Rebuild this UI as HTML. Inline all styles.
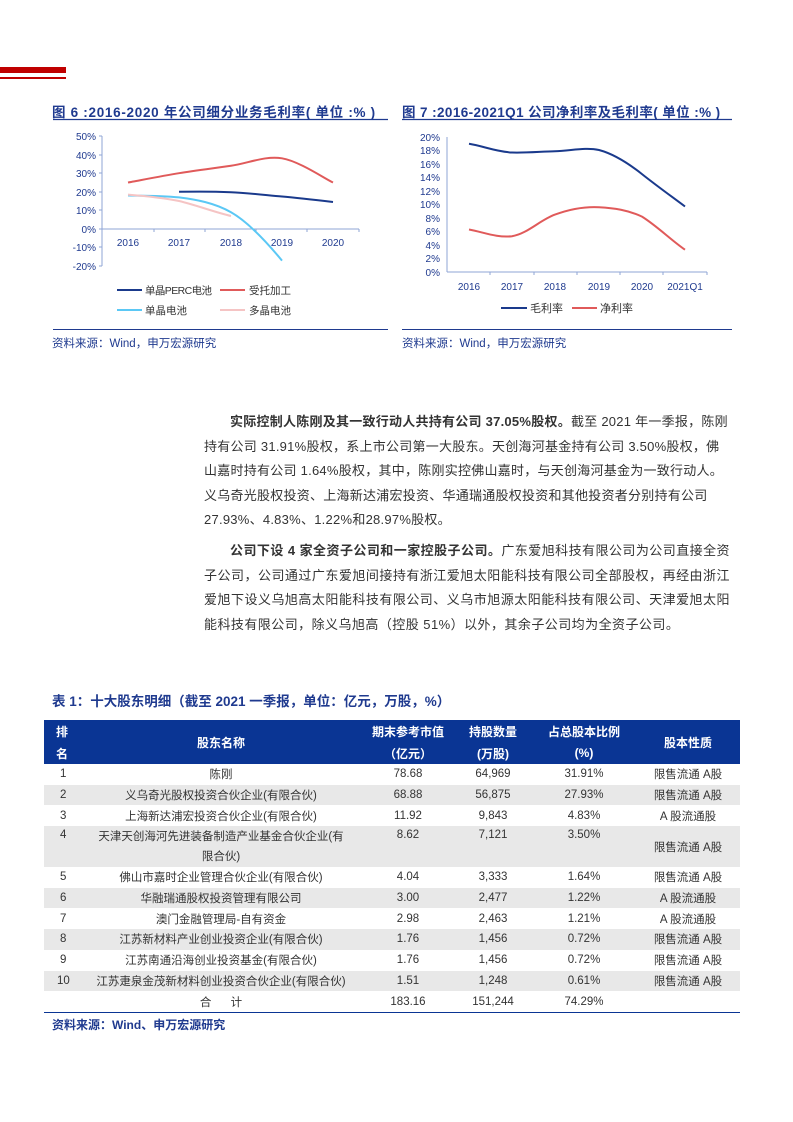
<!DOCTYPE html>
<html><head><meta charset="utf-8"><style>
body{margin:0;width:793px;height:1122px;position:relative;background:#fff;font-family:"Liberation Sans","Noto Sans CJK SC",sans-serif;overflow:hidden}
.a{position:absolute;white-space:nowrap}
.t{color:#1f3a8f;font-weight:bold;font-size:13.5px}
.src{font-size:11.5px;color:#1f3a8f}
.p{font-size:13px;color:#333;line-height:24.5px;position:absolute;left:204px;width:526px;text-indent:26px;text-align:justify;letter-spacing:0.45px}
table{position:absolute;left:44px;top:720px;width:696px;border-collapse:collapse;font-size:11.5px;color:#333;table-layout:fixed}
td{text-align:center;padding:0;height:20.7px}
th{background:#0a3594;color:#fff;font-size:12px;font-weight:bold;height:22px;padding:0}
tr.g td{background:#e8e8e8}
</style></head><body>
<div class="a" style="left:0;top:67px;width:66px;height:6px;background:#c00000"></div>
<div class="a" style="left:0;top:77px;width:66px;height:2px;background:#c00000"></div>

<div class="a t" style="left:52px;top:101px;letter-spacing:0.7px">图 6 :2016-2020 年公司细分业务毛利率( 单位 :% )</div>
<div class="a t" style="left:402px;top:101px;letter-spacing:0.4px">图 7 :2016-2021Q1 公司净利率及毛利率( 单位 :% )</div>

<svg class="a" style="left:0;top:0" width="793" height="360" font-family="Liberation Sans, Noto Sans CJK SC, sans-serif">
<line x1="53" y1="119.5" x2="388" y2="119.5" stroke="#1f3a8f" stroke-width="1.2"/>
<line x1="402" y1="119.5" x2="732" y2="119.5" stroke="#1f3a8f" stroke-width="1.2"/>
<line x1="53" y1="329.5" x2="388" y2="329.5" stroke="#1f3a8f" stroke-width="1"/>
<line x1="402" y1="329.5" x2="732" y2="329.5" stroke="#1f3a8f" stroke-width="1"/>
<g fill="#1f3a8f" font-size="10" text-anchor="end">
<text x="96" y="140">50%</text><text x="96" y="159">40%</text><text x="96" y="177">30%</text><text x="96" y="196">20%</text><text x="96" y="214">10%</text><text x="96" y="233">0%</text><text x="96" y="251">-10%</text><text x="96" y="270">-20%</text>
</g>
<g stroke="#8fa6d6" stroke-width="1"><line x1="102" y1="136" x2="102" y2="266"/><line x1="102" y1="229" x2="359" y2="229"/>
<line x1="99" y1="136" x2="102" y2="136"/><line x1="99" y1="155" x2="102" y2="155"/><line x1="99" y1="173" x2="102" y2="173"/><line x1="99" y1="192" x2="102" y2="192"/><line x1="99" y1="210" x2="102" y2="210"/><line x1="99" y1="229" x2="102" y2="229"/><line x1="99" y1="247" x2="102" y2="247"/><line x1="99" y1="266" x2="102" y2="266"/>
<line x1="154" y1="229" x2="154" y2="232"/><line x1="205" y1="229" x2="205" y2="232"/><line x1="256" y1="229" x2="256" y2="232"/><line x1="307" y1="229" x2="307" y2="232"/><line x1="359" y1="229" x2="359" y2="232"/></g>
<g fill="#1f3a8f" font-size="10" text-anchor="middle"><text x="128" y="246">2016</text><text x="179" y="246">2017</text><text x="231" y="246">2018</text><text x="282" y="246">2019</text><text x="333" y="246">2020</text></g>
<g fill="none" stroke-width="2">
<path d="M128,182.5 C136.5,181 161.8,176 179,173.2 C196.2,170.4 213.8,168.3 231,165.8 C248.2,163.3 265,155.5 282,158.3 C299,161.1 324.5,178.5 333,182.5" stroke="#e05a5a"/>
<path d="M179,191.8 C196,191.5 214,191.5 231,192.2 C248,193 265,195 282,196.5 C299,198 316,200 333,202" stroke="#1a3a8c"/>
<path d="M128,195.5 C145,195.7 162,195.5 179,197.4 C196,199.5 215,203 231,212.3 C248,222 265,240 282,260.6" stroke="#5bc8f5"/>
<path d="M128,194.6 C145,196 162,197.5 179,201 C196,205 214,212 231,216" stroke="#f5c4c4"/>
</g>
<g font-size="10.5" fill="#333">
<line x1="117" y1="290" x2="142" y2="290" stroke="#1a3a8c" stroke-width="2"/><text x="145" y="294" letter-spacing="-0.6">单晶PERC电池</text>
<line x1="220" y1="290" x2="245" y2="290" stroke="#e05a5a" stroke-width="2"/><text x="249" y="294">受托加工</text>
<line x1="117" y1="310" x2="142" y2="310" stroke="#5bc8f5" stroke-width="2"/><text x="145" y="314">单晶电池</text>
<line x1="220" y1="310" x2="245" y2="310" stroke="#f5c4c4" stroke-width="2"/><text x="249" y="314">多晶电池</text>
</g>
<g fill="#1f3a8f" font-size="10" text-anchor="end">
<text x="440" y="141">20%</text><text x="440" y="154">18%</text><text x="440" y="168">16%</text><text x="440" y="181">14%</text><text x="440" y="195">12%</text><text x="440" y="208">10%</text><text x="440" y="222">8%</text><text x="440" y="235">6%</text><text x="440" y="249">4%</text><text x="440" y="262">2%</text><text x="440" y="276">0%</text>
</g>
<g stroke="#8fa6d6"><line x1="447" y1="137" x2="447" y2="272"/><line x1="447" y1="272" x2="707" y2="272"/>
<line x1="490" y1="272" x2="490" y2="275"/><line x1="534" y1="272" x2="534" y2="275"/><line x1="577" y1="272" x2="577" y2="275"/><line x1="620" y1="272" x2="620" y2="275"/><line x1="663" y1="272" x2="663" y2="275"/><line x1="707" y1="272" x2="707" y2="275"/></g>
<g fill="#1f3a8f" font-size="10" text-anchor="middle"><text x="469" y="290">2016</text><text x="512" y="290">2017</text><text x="555" y="290">2018</text><text x="599" y="290">2019</text><text x="642" y="290">2020</text><text x="685" y="290">2021Q1</text></g>
<g fill="none" stroke-width="2">
<path d="M469,143.8 C483,146 497,152 512,152.5 C526,153 541,151.5 555,151.2 C570,151 585,147 599,150 C614,154 628,163 642,174.1 C657,186 671,196 685,206.5" stroke="#1a3a8c"/>
<path d="M469,229.5 C483,232 497,238 512,236.2 C527,234 540,220 555,214.6 C570,209 585,206.5 599,207.2 C614,208 628,210 642,216.6 C657,226 671,240 685,249.7" stroke="#e05a5a"/>
</g>
<g font-size="11" fill="#333">
<line x1="501" y1="308" x2="527" y2="308" stroke="#1a3a8c" stroke-width="2"/><text x="530" y="312">毛利率</text>
<line x1="572" y1="308" x2="597" y2="308" stroke="#e05a5a" stroke-width="2"/><text x="600" y="312">净利率</text>
</g>
</svg>
<div class="a src" style="left:52px;top:335px">资料来源：Wind，申万宏源研究</div>
<div class="a src" style="left:402px;top:335px">资料来源：Wind，申万宏源研究</div>

<div class="p" style="top:410px;letter-spacing:0.25px"><b>实际控制人陈刚及其一致行动人共持有公司 37.05%股权。</b>截至 2021 年一季报，陈刚<br>持有公司 31.91%股权，系上市公司第一大股东。天创海河基金持有公司 3.50%股权，佛<br>山嘉时持有公司 1.64%股权，其中，陈刚实控佛山嘉时，与天创海河基金为一致行动人。<br>义乌奇光股权投资、上海新达浦宏投资、华通瑞通股权投资和其他投资者分别持有公司<br>27.93%、4.83%、1.22%和28.97%股权。</div>
<div class="p" style="top:539px"><b>公司下设 4 家全资子公司和一家控股子公司。</b>广东爱旭科技有限公司为公司直接全资子公司，公司通过广东爱旭间接持有浙江爱旭太阳能科技有限公司全部股权，再经由浙江爱旭下设义乌旭高太阳能科技有限公司、义乌市旭源太阳能科技有限公司、天津爱旭太阳能科技有限公司，除义乌旭高（控股 51%）以外，其余子公司均为全资子公司。</div>

<div class="a t" style="left:52px;top:690px">表 1：十大股东明细（截至 2021 一季报，单位：亿元，万股，%）</div>
<table>
<colgroup><col style="width:36px"><col style="width:282px"><col style="width:92px"><col style="width:78px"><col style="width:104px"><col style="width:104px"></colgroup>
<tr><th>排</th><th rowspan="2">股东名称</th><th>期末参考市值</th><th>持股数量</th><th>占总股本比例</th><th rowspan="2">股本性质</th></tr>
<tr><th>名</th><th>（亿元）</th><th>(万股)</th><th>(%)</th></tr>
<tr><td style="text-align:left;padding-left:16px">1</td><td>陈刚</td><td>78.68</td><td>64,969</td><td>31.91%</td><td>限售流通 A股</td></tr>
<tr class="g"><td style="text-align:left;padding-left:16px">2</td><td>义乌奇光股权投资合伙企业(有限合伙)</td><td>68.88</td><td>56,875</td><td>27.93%</td><td>限售流通 A股</td></tr>
<tr><td style="text-align:left;padding-left:16px">3</td><td>上海新达浦宏投资合伙企业(有限合伙)</td><td>11.92</td><td>9,843</td><td>4.83%</td><td>A 股流通股</td></tr>
<tr class="g"><td style="text-align:left;padding-left:16px;vertical-align:top;padding-top:3px">4</td><td style="height:41px;line-height:20px">天津天创海河先进装备制造产业基金合伙企业(有<br>限合伙)</td><td style="vertical-align:top;padding-top:3px">8.62</td><td style="vertical-align:top;padding-top:3px">7,121</td><td style="vertical-align:top;padding-top:3px">3.50%</td><td>限售流通 A股</td></tr>
<tr><td style="text-align:left;padding-left:16px">5</td><td>佛山市嘉时企业管理合伙企业(有限合伙)</td><td>4.04</td><td>3,333</td><td>1.64%</td><td>限售流通 A股</td></tr>
<tr class="g"><td style="text-align:left;padding-left:16px">6</td><td>华融瑞通股权投资管理有限公司</td><td>3.00</td><td>2,477</td><td>1.22%</td><td>A 股流通股</td></tr>
<tr><td style="text-align:left;padding-left:16px">7</td><td>澳门金融管理局-自有资金</td><td>2.98</td><td>2,463</td><td>1.21%</td><td>A 股流通股</td></tr>
<tr class="g"><td style="text-align:left;padding-left:16px">8</td><td>江苏新材料产业创业投资企业(有限合伙)</td><td>1.76</td><td>1,456</td><td>0.72%</td><td>限售流通 A股</td></tr>
<tr><td style="text-align:left;padding-left:16px">9</td><td>江苏南通沿海创业投资基金(有限合伙)</td><td>1.76</td><td>1,456</td><td>0.72%</td><td>限售流通 A股</td></tr>
<tr class="g"><td style="text-align:left;padding-left:13px">10</td><td>江苏疌泉金茂新材料创业投资合伙企业(有限合伙)</td><td>1.51</td><td>1,248</td><td>0.61%</td><td>限售流通 A股</td></tr>
<tr style="border-bottom:1.5px solid #0a3594"><td></td><td>合&nbsp;&nbsp;&nbsp;&nbsp;&nbsp;&nbsp;计</td><td>183.16</td><td>151,244</td><td>74.29%</td><td></td></tr>
</table>
<div class="a t" style="left:52px;top:1016px;font-size:12px">资料来源：Wind、申万宏源研究</div>
</body></html>
